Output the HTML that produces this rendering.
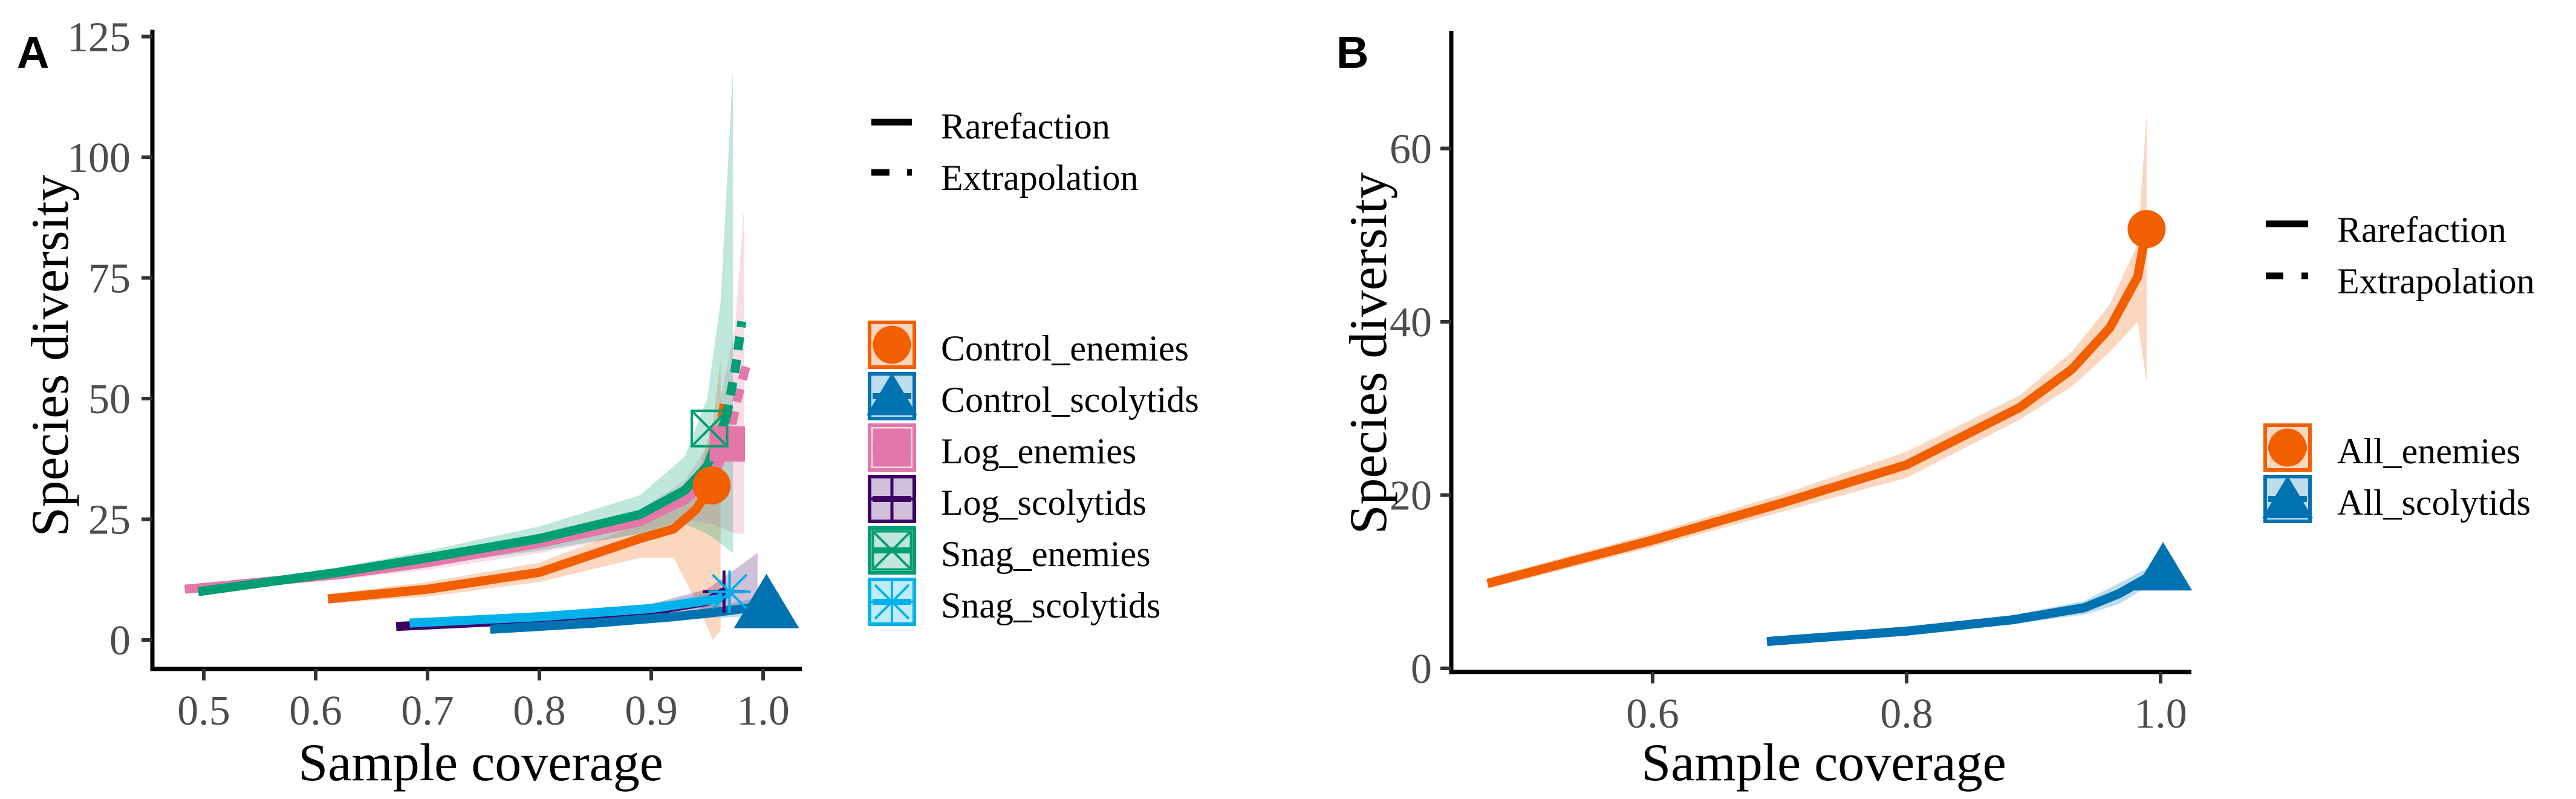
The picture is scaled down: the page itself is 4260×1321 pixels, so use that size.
<!DOCTYPE html>
<html><head><meta charset="utf-8"><style>
html,body{margin:0;padding:0;background:#fff;}
svg{display:block;}
text{font-family:"Liberation Serif",serif;}
text.sans{font-family:"Liberation Sans",sans-serif;font-weight:bold;}
</style></head><body>
<svg id="fig" width="4260" height="1321" viewBox="0 0 4260 1321" xmlns="http://www.w3.org/2000/svg">
<g id="pa"></g>
<g id="pb"></g>
</svg>
<script>
// ---------- Panel A data ----------
const aXTicks = [0.5, 0.6, 0.7, 0.8, 0.9, 1.0];
const aXTickLabels = ["0.5", "0.6", "0.7", "0.8", "0.9", "1.0"];
const aYTicks = [0, 25, 50, 75, 100, 125];
const aYTickLabels = ["0", "25", "50", "75", "100", "125"];
const aSeriesNames = ["Control_enemies","Control_scolytids","Log_enemies","Log_scolytids","Snag_enemies","Snag_scolytids"];
const snagEnCov = [0.495,0.62,0.7,0.8,0.89,0.93,0.95,0.967];
const snagEnDiv = [10,14,17,21,26,31,36,46];
const snagEnExtCov = [0.967,0.975,0.981];
const snagEnExtDiv = [46,56,66];
const snagEnRibCov = [0.495,0.62,0.7,0.8,0.89,0.93,0.95,0.962,0.973,0.973];
const snagEnRibHi = [10.8,15,18.5,23.5,30,38,50,70,118,118];
const snagEnRibLo = [9.2,13,15.5,18.5,22,24,22,20,18,5];

const logEnCov = [0.483,0.62,0.7,0.8,0.89,0.93,0.955,0.968];
const logEnDiv = [10.5,13.5,16,20,24.5,29,34,40];
const logEnExtCov = [0.968,0.976,0.985];
const logEnExtDiv = [40,49,57];
const logEnRibCov = [0.483,0.62,0.7,0.8,0.89,0.93,0.955,0.975,0.983,0.983];
const logEnRibHi = [11,14.5,17.5,22,27,33,42,65,90,90];
const logEnRibLo = [10,12.5,14.5,18,22,25,24,22,22,22];

const ctrlEnCov = [0.611,0.7,0.8,0.89,0.92,0.94,0.954];
const ctrlEnDiv = [8.5,10.5,14,21,23,27,32];
const ctrlEnExtCov = [0.954,0.96,0.966];
const ctrlEnExtDiv = [32,41,50];
const ctrlEnRibCov = [0.611,0.7,0.8,0.89,0.92,0.94,0.955,0.962,0.962];
const ctrlEnRibHi = [9.5,12,16,24,27,33,45,58,58];
const ctrlEnRibLo = [7.5,9,12,17,17,8,0,2,2];

const ctrlScCov = [0.756,0.85,0.92,0.96,1.0];
const ctrlScDiv = [2.2,3.5,4.8,5.8,7];
const ctrlScRibHi = [2.6,4,5.5,7,9];
const ctrlScRibLo = [1.8,3,4,4.6,5];

const logScCov = [0.672,0.8,0.9,0.95,0.965];
const logScDiv = [2.8,4.2,6,8,10];
const logScRibCov = [0.672,0.8,0.9,0.95,0.995,0.995];
const logScRibHi = [3.2,5,7.5,10.5,18,18];
const logScRibLo = [2.4,3.5,4.5,5.5,6,6];

const snagScCov = [0.684,0.8,0.9,0.96,0.97];
const snagScDiv = [3.5,4.8,6.5,8.5,10];
const snagScRibHi = [3.9,5.4,7.5,10,12];
const snagScRibLo = [3.1,4.2,5.5,7,8];

const aMarkerCov = [0.954,1.003,0.968,0.965,0.952,0.97];
const aMarkerDiv = [32,7.5,40.6,10,43.8,10];

// ---------- Panel B data ----------
const bXTicks = [0.6,0.8,1.0];
const bXTickLabels = ["0.6","0.8","1.0"];
const bYTicks = [0,20,40,60];
const bYTickLabels = ["0","20","40","60"];
const bSeriesNames = ["All_enemies","All_scolytids"];
const allEnCov = [0.47,0.6,0.7,0.8,0.889,0.93,0.96,0.982,0.989];
const allEnDiv = [9.8,14.8,19,23.5,30.1,34.5,39.3,45.2,50.7];
const allEnRibHi = [10.4,15.6,20,25,31.5,36.5,42,49,64];
const allEnRibLo = [9.2,14,18,22,28.7,32.5,36.5,40,33];
const allScCov = [0.69,0.8,0.883,0.94,0.967,1.002];
const allScDiv = [3.1,4.3,5.6,7,8.6,11.5];
const allScRibHi = [3.4,4.7,6.1,7.8,9.8,12.5];
const allScRibLo = [2.8,3.9,5.1,6.2,7.4,10.5];
const bMarkerCov = [0.989,1.002];
const bMarkerDiv = [50.7,11.5];

const NS = "http://www.w3.org/2000/svg";
function el(tag, attrs, parent){const e=document.createElementNS(NS,tag);for(const k in attrs)e.setAttribute(k,attrs[k]);parent.appendChild(e);return e;}

const axA = c => 337 + (c-0.5)*1850;
const ayA = v => 1058 - v*7.98;
const axB = c => 2733 + (c-0.6)*2100;
const ayB = v => 1105 - v*14.325;

function pathD(xs, ys, fx, fy){return xs.map((c,i)=>(i?"L":"M")+fx(c).toFixed(1)+","+fy(ys[i]).toFixed(1)).join(" ");}
function ribbon(g, cov, hi, lo, fx, fy, color, name){
  let d = cov.map((c,i)=>(i?"L":"M")+fx(c).toFixed(1)+","+fy(hi[i]).toFixed(1)).join(" ");
  for(let i=cov.length-1;i>=0;i--) d += " L"+fx(cov[i]).toFixed(1)+","+fy(lo[i]).toFixed(1);
  const p = el("path",{d:d+" Z",fill:color,"fill-opacity":"0.25",stroke:"none"},g);
  
  
}
function line(g, cov, div, fx, fy, color, name, dashed){
  const a = {d:pathD(cov,div,fx,fy),fill:"none",stroke:color,"stroke-width":"15","stroke-linejoin":"round"};
  if(dashed) a["stroke-dasharray"]="22 16";
  const p = el("path",a,g);
  
  
}
function marker(g, shape, cx, cy, color, s, name){
  let m;
  if(shape==="circle") m = el("circle",{cx:cx,cy:cy,r:s*0.45,fill:color},g);
  else if(shape==="triangle") m = el("path",{d:`M${cx},${cy-s*0.55} L${cx+s*0.6},${cy+s*0.45} L${cx-s*0.6},${cy+s*0.45} Z`,fill:color},g);
  else if(shape==="square") m = el("rect",{x:cx-s*0.45,y:cy-s*0.45,width:s*0.9,height:s*0.9,fill:color},g);
  else if(shape==="plus") m = el("path",{d:`M${cx-s*0.5},${cy} H${cx+s*0.5} M${cx},${cy-s*0.5} V${cy+s*0.5}`,stroke:color,"stroke-width":"5",fill:"none"},g);
  else if(shape==="boxx") m = el("path",{d:`M${cx-s*0.45},${cy-s*0.45} h${s*0.9} v${s*0.9} h${-s*0.9} Z M${cx-s*0.45},${cy-s*0.45} L${cx+s*0.45},${cy+s*0.45} M${cx+s*0.45},${cy-s*0.45} L${cx-s*0.45},${cy+s*0.45}`,stroke:color,"stroke-width":"4",fill:"none"},g);
  else m = el("path",{d:`M${cx-s*0.5},${cy} H${cx+s*0.5} M${cx},${cy-s*0.5} V${cy+s*0.5} M${cx-s*0.4},${cy-s*0.4} L${cx+s*0.4},${cy+s*0.4} M${cx+s*0.4},${cy-s*0.4} L${cx-s*0.4},${cy+s*0.4}`,stroke:color,"stroke-width":"4",fill:"none"},g);
  
  
}
function axes(g, x0, x1, yTop, yAxisY, xTicks, xLabels, fx, yTicks, yLabels, fy, labY, labX, prefix){
  const ya = el("line",{x1:x0,y1:yTop,x2:x0,y2:yAxisY+3,stroke:"#000","stroke-width":"7"},g);
  
  
  const xa = el("line",{x1:x0-3,y1:yAxisY,x2:x1,y2:yAxisY,stroke:"#000","stroke-width":"7"},g);
  
  
  xTicks.forEach((t,i)=>{
    const tk = el("line",{x1:fx(t),y1:yAxisY,x2:fx(t),y2:yAxisY+19,stroke:"#333","stroke-width":"6"},g);
    
    
    const tl = el("text",{x:fx(t),y:labY,"text-anchor":"middle","font-size":"70",fill:"#4d4d4d"},g);
    tl.textContent = xLabels[i];
    
    
  });
  yTicks.forEach((t,i)=>{
    const tk = el("line",{x1:x0-18,y1:fy(t),x2:x0,y2:fy(t),stroke:"#333","stroke-width":"6"},g);
    
    
    const tl = el("text",{x:labX,y:fy(t)+24,"text-anchor":"end","font-size":"70",fill:"#4d4d4d"},g);
    tl.textContent = yLabels[i];
    
    
  });
}
function txt(g, x, y, s, size, name, extra){
  const a = {x:x,y:y,"font-size":size,fill:"#000"}; for(const k in (extra||{})) a[k]=extra[k];
  const t = el("text",a,g); t.textContent = s;
  
  
  return t;
}
function legendKey(g, x, y, color, shape, name){
  const r = el("rect",{x:x+3,y:y+3,width:74,height:74,fill:color,"fill-opacity":"0.25",stroke:color,"stroke-width":"6"},g);
  
  
  const l = el("line",{x1:x+8,y1:y+40,x2:x+72,y2:y+40,stroke:color,"stroke-width":"10"},g);
  
  
  marker(g, shape, x+40, y+40, color, 70, name+'-key-marker');
}

const C = {ce:"#F25F00", cs:"#0072B2", le:"#E377A9", ls:"#3F0066", se:"#009E73", ss:"#00B1EB"};

// ---------- Panel A ----------
const ga = document.getElementById("pa");
ribbon(ga, ctrlEnRibCov, ctrlEnRibHi, ctrlEnRibLo, axA, ayA, C.ce, "control-enemies-ci");
ribbon(ga, logEnRibCov, logEnRibHi, logEnRibLo, axA, ayA, C.le, "log-enemies-ci");
ribbon(ga, snagEnRibCov, snagEnRibHi, snagEnRibLo, axA, ayA, C.se, "snag-enemies-ci");
ribbon(ga, logScRibCov, logScRibHi, logScRibLo, axA, ayA, C.ls, "log-scolytids-ci");
ribbon(ga, ctrlScCov, ctrlScRibHi, ctrlScRibLo, axA, ayA, C.cs, "control-scolytids-ci");
ribbon(ga, snagScCov, snagScRibHi, snagScRibLo, axA, ayA, C.ss, "snag-scolytids-ci");
line(ga, ctrlEnCov, ctrlEnDiv, axA, ayA, C.ce, "control-enemies-rarefaction");
line(ga, ctrlEnExtCov, ctrlEnExtDiv, axA, ayA, C.ce, "control-enemies-extrapolation", true);
line(ga, logEnCov, logEnDiv, axA, ayA, C.le, "log-enemies-rarefaction");
line(ga, logEnExtCov, logEnExtDiv, axA, ayA, C.le, "log-enemies-extrapolation", true);
line(ga, snagEnCov, snagEnDiv, axA, ayA, C.se, "snag-enemies-rarefaction");
line(ga, snagEnExtCov, snagEnExtDiv, axA, ayA, C.se, "snag-enemies-extrapolation", true);
line(ga, logScCov, logScDiv, axA, ayA, C.ls, "log-scolytids-rarefaction");
line(ga, snagScCov, snagScDiv, axA, ayA, C.ss, "snag-scolytids-rarefaction");
line(ga, ctrlScCov, ctrlScDiv, axA, ayA, C.cs, "control-scolytids-rarefaction");
const aShapes = ["circle","triangle","square","plus","boxx","star"];
const aColors = [C.ce,C.cs,C.le,C.ls,C.se,C.ss];
const aSizes = [70,90,65,70,65,70];
aMarkerCov.forEach((c,i)=>marker(ga, aShapes[i], axA(c), ayA(aMarkerDiv[i]), aColors[i], aSizes[i], aSeriesNames[i].toLowerCase().replace('_','-')+'-observed-marker'));
axes(ga, 252, 1326, 49, 1106, aXTicks, aXTickLabels, axA, aYTicks, aYTickLabels, ayA, 1198, 216, "a-");
txt(ga, 795, 1290, "Sample coverage", 88, "a-x-axis-title", {"text-anchor":"middle"});
txt(ga, 0, 0, "Species diversity", 88, "a-y-axis-title", {"text-anchor":"middle", transform:"translate(112,588) rotate(-90)"});
txt(ga, 28, 112, "A", 74, "panel-a-label", {"class":"sans"});
const lr = el("line",{x1:1441,y1:202,x2:1508,y2:202,stroke:"#000","stroke-width":"11"},ga);


const le = el("path",{d:"M1441,285 H1471 M1500,285 H1508",stroke:"#000","stroke-width":"11"},ga);


txt(ga, 1556, 229, "Rarefaction", 60, "a-legend-rarefaction-label");
txt(ga, 1556, 314, "Extrapolation", 60, "a-legend-extrapolation-label");
aSeriesNames.forEach((n,i)=>{
  const y = 530 + i*85;
  legendKey(ga, 1435, y, aColors[i], aShapes[i], 'a-legend-'+n.toLowerCase().replace('_','-'));
  txt(ga, 1556, y+66, n, 60, 'a-legend-label-'+n.toLowerCase().replace('_','-'));
});

// ---------- Panel B ----------
const gb = document.getElementById("pb");
ribbon(gb, allEnCov, allEnRibHi, allEnRibLo, axB, ayB, C.ce, "all-enemies-ci");
ribbon(gb, allScCov, allScRibHi, allScRibLo, axB, ayB, C.cs, "all-scolytids-ci");
line(gb, allEnCov, allEnDiv, axB, ayB, C.ce, "all-enemies-rarefaction");
line(gb, allScCov, allScDiv, axB, ayB, C.cs, "all-scolytids-rarefaction");
marker(gb, "circle", axB(bMarkerCov[0]), ayB(bMarkerDiv[0]), C.ce, 70, "all-enemies-observed-marker");
marker(gb, "triangle", axB(bMarkerCov[1]), ayB(bMarkerDiv[1]), C.cs, 80, "all-scolytids-observed-marker");
axes(gb, 2400, 3624, 51, 1111, bXTicks, bXTickLabels, axB, bYTicks, bYTickLabels, ayB, 1203, 2368, "b-");
txt(gb, 3016, 1290, "Sample coverage", 88, "b-x-axis-title", {"text-anchor":"middle"});
txt(gb, 0, 0, "Species diversity", 88, "b-y-axis-title", {"text-anchor":"middle", transform:"translate(2292,584) rotate(-90)"});
txt(gb, 2210, 112, "B", 74, "panel-b-label", {"class":"sans"});
const lr2 = el("line",{x1:3747,y1:370,x2:3817,y2:370,stroke:"#000","stroke-width":"11"},gb);


const le2 = el("path",{d:"M3747,456 H3776 M3806,456 H3817",stroke:"#000","stroke-width":"11"},gb);


txt(gb, 3865, 400, "Rarefaction", 60, "b-legend-rarefaction-label");
txt(gb, 3865, 485, "Extrapolation", 60, "b-legend-extrapolation-label");
const bShapes = ["circle","triangle"], bColors=[C.ce,C.cs];
bSeriesNames.forEach((n,i)=>{
  const y = 700 + i*85;
  legendKey(gb, 3743, y, bColors[i], bShapes[i], 'b-legend-'+n.toLowerCase().replace('_','-'));
  txt(gb, 3865, y+66, n, 60, 'b-legend-label-'+n.toLowerCase().replace('_','-'));
});
</script>
</body></html>
